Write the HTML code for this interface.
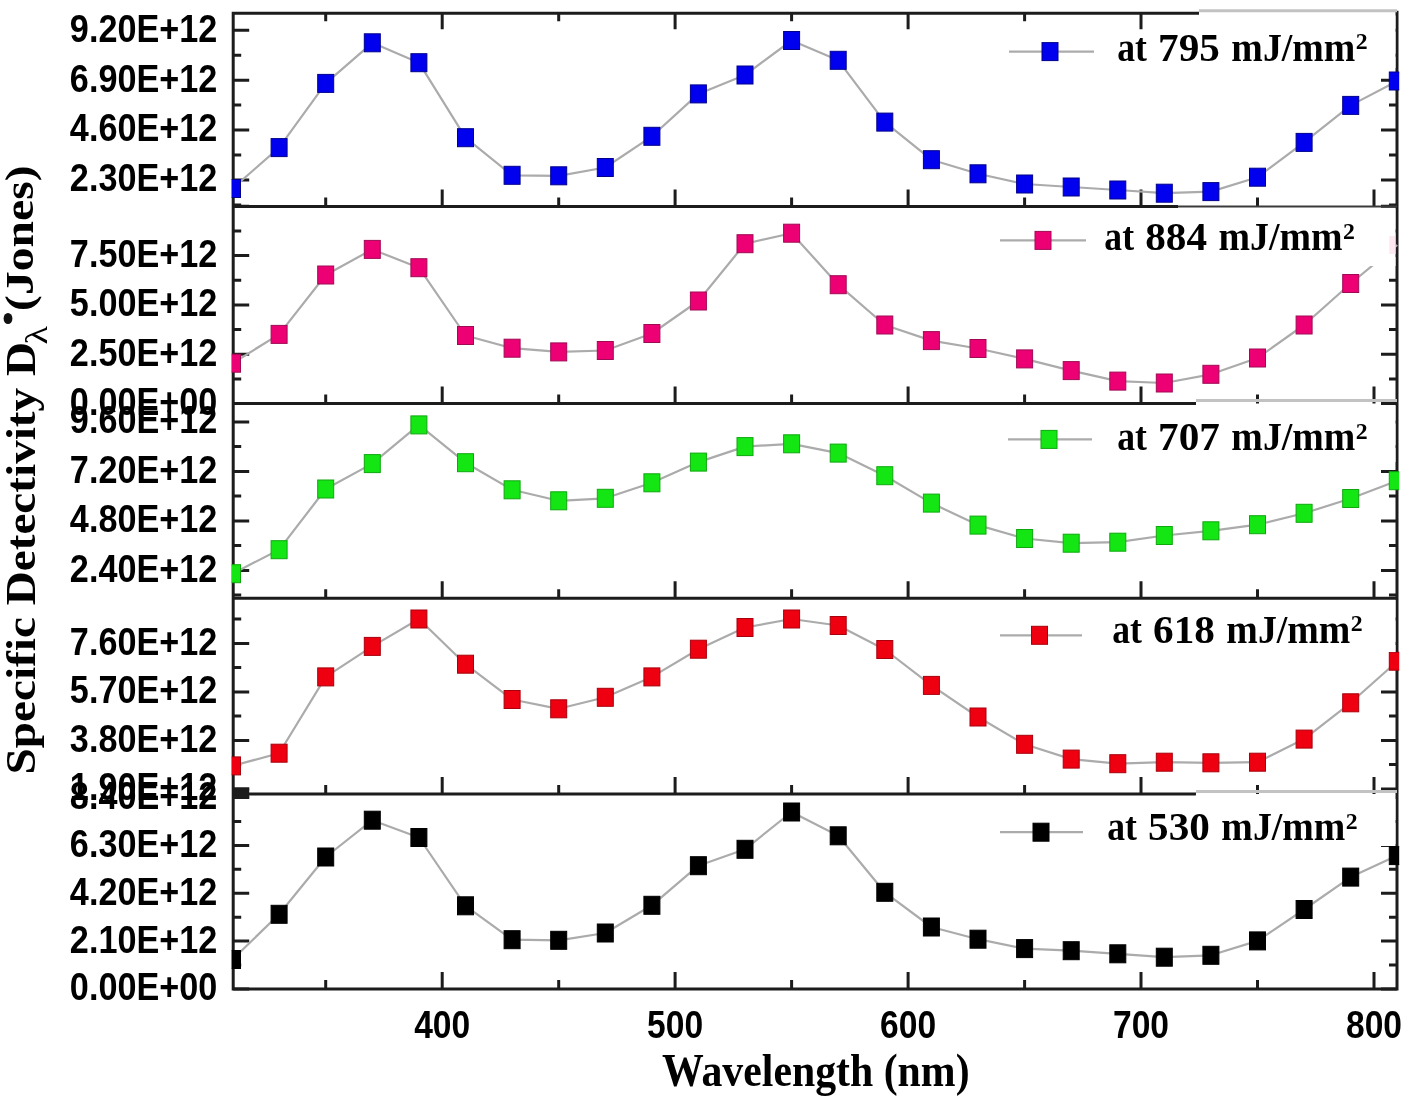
<!DOCTYPE html><html><head><meta charset="utf-8"><title>Specific Detectivity</title><style>html,body{margin:0;padding:0;background:#fff;overflow:hidden;}svg{display:block;}</style></head><body>
<svg width="1416" height="1105" viewBox="0 0 1416 1105" style="will-change:transform">
<rect width="1416" height="1105" fill="#fff"/>
<defs>
<clipPath id="c0"><rect x="231.7" y="13.3" width="1167.5" height="193.3"/></clipPath>
<clipPath id="c1"><rect x="231.7" y="206.6" width="1167.5" height="196.9"/></clipPath>
<clipPath id="c2"><rect x="231.7" y="403.5" width="1167.5" height="194.8"/></clipPath>
<clipPath id="c3"><rect x="231.7" y="598.3" width="1167.5" height="195.7"/></clipPath>
<clipPath id="c4"><rect x="231.7" y="794.0" width="1167.5" height="195.0"/></clipPath>
</defs>
<path d="M233.2 30.3h16 M1397.0 30.3h-16 M233.2 55.2h8 M1397.0 55.2h-8 M233.2 80.2h16 M1397.0 80.2h-16 M233.2 105.1h8 M1397.0 105.1h-8 M233.2 130.1h16 M1397.0 130.1h-16 M233.2 155.1h8 M1397.0 155.1h-8 M233.2 180.0h16 M1397.0 180.0h-16 M233.2 205.0h8 M1397.0 205.0h-8 M325.7 206.6v-9 M442.2 206.6v-17 M558.7 206.6v-9 M675.1 206.6v-17 M791.6 206.6v-9 M908.1 206.6v-17 M1024.6 206.6v-9 M1141.0 206.6v-17 M1257.5 206.6v-9 M1374.0 206.6v-17 M325.7 13.3v8 M442.2 13.3v16 M558.7 13.3v8 M675.1 13.3v16 M791.6 13.3v8 M908.1 13.3v16 M1024.6 13.3v8 M1141.0 13.3v16 M233.2 206.3h16 M1397.0 206.3h-16 M233.2 230.9h8 M1397.0 230.9h-8 M233.2 255.6h16 M1397.0 255.6h-16 M233.2 280.2h8 M1397.0 280.2h-8 M233.2 304.9h16 M1397.0 304.9h-16 M233.2 329.6h8 M1397.0 329.6h-8 M233.2 354.2h16 M1397.0 354.2h-16 M233.2 378.9h8 M1397.0 378.9h-8 M233.2 403.5h16 M1397.0 403.5h-16 M325.7 403.5v-9 M442.2 403.5v-17 M558.7 403.5v-9 M675.1 403.5v-17 M791.6 403.5v-9 M908.1 403.5v-17 M1024.6 403.5v-9 M1141.0 403.5v-17 M1257.5 403.5v-9 M1374.0 403.5v-17 M233.2 421.9h16 M1397.0 421.9h-16 M233.2 446.6h8 M1397.0 446.6h-8 M233.2 471.4h16 M1397.0 471.4h-16 M233.2 496.1h8 M1397.0 496.1h-8 M233.2 520.9h16 M1397.0 520.9h-16 M233.2 545.6h8 M1397.0 545.6h-8 M233.2 570.4h16 M1397.0 570.4h-16 M233.2 595.1h8 M1397.0 595.1h-8 M325.7 598.3v-9 M442.2 598.3v-17 M558.7 598.3v-9 M675.1 598.3v-17 M791.6 598.3v-9 M908.1 598.3v-17 M1024.6 598.3v-9 M1141.0 598.3v-17 M1257.5 598.3v-9 M1374.0 598.3v-17 M233.2 619.1h8 M1397.0 619.1h-8 M233.2 643.4h16 M1397.0 643.4h-16 M233.2 667.6h8 M1397.0 667.6h-8 M233.2 691.9h16 M1397.0 691.9h-16 M233.2 716.1h8 M1397.0 716.1h-8 M233.2 740.4h16 M1397.0 740.4h-16 M233.2 764.6h8 M1397.0 764.6h-8 M233.2 788.9h16 M1397.0 788.9h-16 M325.7 794.0v-9 M442.2 794.0v-17 M558.7 794.0v-9 M675.1 794.0v-17 M791.6 794.0v-9 M908.1 794.0v-17 M1024.6 794.0v-9 M1141.0 794.0v-17 M1257.5 794.0v-9 M1374.0 794.0v-17 M233.2 797.5h16 M1397.0 797.5h-16 M233.2 821.4h8 M1397.0 821.4h-8 M233.2 845.4h16 M1397.0 845.4h-16 M233.2 869.3h8 M1397.0 869.3h-8 M233.2 893.2h16 M1397.0 893.2h-16 M233.2 917.2h8 M1397.0 917.2h-8 M233.2 941.1h16 M1397.0 941.1h-16 M233.2 965.1h8 M1397.0 965.1h-8 M233.2 989.0h16 M1397.0 989.0h-16 M325.7 989.0v-9 M442.2 989.0v-17 M558.7 989.0v-9 M675.1 989.0v-17 M791.6 989.0v-9 M908.1 989.0v-17 M1024.6 989.0v-9 M1141.0 989.0v-17 M1257.5 989.0v-9 M1374.0 989.0v-17" stroke="#1c1c1c" stroke-width="3" fill="none"/>
<path d="M233.2 11.8V990.5 M1397.0 10.8V990.5 M231.7 13.3H1199 M231.7 206.6H1178 M231.7 403.5H1196 M231.7 598.3H1398.5 M231.7 794.0H1196 M231.7 989.0H1398.5" stroke="#1c1c1c" stroke-width="3" fill="none"/>
<rect x="233.2" y="787.5" width="16" height="11" fill="#1c1c1c"/>
<g clip-path="url(#c0)">
<polyline points="232.5,188.5 279.1,147.6 325.7,83.4 372.3,42.8 418.9,62.7 465.5,137.7 512.1,175.3 558.7,175.8 605.3,167.5 651.9,136.3 698.4,93.9 745.0,75.0 791.6,40.5 838.2,60.3 884.8,122.1 931.4,159.7 978.0,173.8 1024.6,184.0 1071.2,187.0 1117.8,190.0 1164.3,193.2 1210.9,191.6 1257.5,177.2 1304.1,142.4 1350.7,105.4 1397.3,81.0" fill="none" stroke="#ababab" stroke-width="2.2" stroke-linejoin="round"/>
<rect x="224.5" y="179.5" width="16" height="18" fill="#0000ee" stroke="#00008c" stroke-width="1"/>
<rect x="271.1" y="138.6" width="16" height="18" fill="#0000ee" stroke="#00008c" stroke-width="1"/>
<rect x="317.7" y="74.4" width="16" height="18" fill="#0000ee" stroke="#00008c" stroke-width="1"/>
<rect x="364.3" y="33.8" width="16" height="18" fill="#0000ee" stroke="#00008c" stroke-width="1"/>
<rect x="410.9" y="53.7" width="16" height="18" fill="#0000ee" stroke="#00008c" stroke-width="1"/>
<rect x="457.5" y="128.7" width="16" height="18" fill="#0000ee" stroke="#00008c" stroke-width="1"/>
<rect x="504.1" y="166.3" width="16" height="18" fill="#0000ee" stroke="#00008c" stroke-width="1"/>
<rect x="550.7" y="166.8" width="16" height="18" fill="#0000ee" stroke="#00008c" stroke-width="1"/>
<rect x="597.3" y="158.5" width="16" height="18" fill="#0000ee" stroke="#00008c" stroke-width="1"/>
<rect x="643.9" y="127.3" width="16" height="18" fill="#0000ee" stroke="#00008c" stroke-width="1"/>
<rect x="690.4" y="84.9" width="16" height="18" fill="#0000ee" stroke="#00008c" stroke-width="1"/>
<rect x="737.0" y="66.0" width="16" height="18" fill="#0000ee" stroke="#00008c" stroke-width="1"/>
<rect x="783.6" y="31.5" width="16" height="18" fill="#0000ee" stroke="#00008c" stroke-width="1"/>
<rect x="830.2" y="51.3" width="16" height="18" fill="#0000ee" stroke="#00008c" stroke-width="1"/>
<rect x="876.8" y="113.1" width="16" height="18" fill="#0000ee" stroke="#00008c" stroke-width="1"/>
<rect x="923.4" y="150.7" width="16" height="18" fill="#0000ee" stroke="#00008c" stroke-width="1"/>
<rect x="970.0" y="164.8" width="16" height="18" fill="#0000ee" stroke="#00008c" stroke-width="1"/>
<rect x="1016.6" y="175.0" width="16" height="18" fill="#0000ee" stroke="#00008c" stroke-width="1"/>
<rect x="1063.2" y="178.0" width="16" height="18" fill="#0000ee" stroke="#00008c" stroke-width="1"/>
<rect x="1109.8" y="181.0" width="16" height="18" fill="#0000ee" stroke="#00008c" stroke-width="1"/>
<rect x="1156.3" y="184.2" width="16" height="18" fill="#0000ee" stroke="#00008c" stroke-width="1"/>
<rect x="1202.9" y="182.6" width="16" height="18" fill="#0000ee" stroke="#00008c" stroke-width="1"/>
<rect x="1249.5" y="168.2" width="16" height="18" fill="#0000ee" stroke="#00008c" stroke-width="1"/>
<rect x="1296.1" y="133.4" width="16" height="18" fill="#0000ee" stroke="#00008c" stroke-width="1"/>
<rect x="1342.7" y="96.4" width="16" height="18" fill="#0000ee" stroke="#00008c" stroke-width="1"/>
<rect x="1389.3" y="72.0" width="16" height="18" fill="#0000ee" stroke="#00008c" stroke-width="1"/>
</g>
<g clip-path="url(#c1)">
<polyline points="232.5,363.2 279.1,334.4 325.7,275.0 372.3,249.4 418.9,267.7 465.5,335.5 512.1,348.2 558.7,351.9 605.3,350.5 651.9,333.5 698.4,301.0 745.0,243.7 791.6,233.2 838.2,284.7 884.8,325.0 931.4,340.6 978.0,348.5 1024.6,358.9 1071.2,370.6 1117.8,381.1 1164.3,383.0 1210.9,374.3 1257.5,358.0 1304.1,325.0 1350.7,283.5 1397.3,245.0" fill="none" stroke="#ababab" stroke-width="2.2" stroke-linejoin="round"/>
<rect x="224.5" y="354.2" width="16" height="18" fill="#ec0074" stroke="#a00a55" stroke-width="1"/>
<rect x="271.1" y="325.4" width="16" height="18" fill="#ec0074" stroke="#a00a55" stroke-width="1"/>
<rect x="317.7" y="266.0" width="16" height="18" fill="#ec0074" stroke="#a00a55" stroke-width="1"/>
<rect x="364.3" y="240.4" width="16" height="18" fill="#ec0074" stroke="#a00a55" stroke-width="1"/>
<rect x="410.9" y="258.7" width="16" height="18" fill="#ec0074" stroke="#a00a55" stroke-width="1"/>
<rect x="457.5" y="326.5" width="16" height="18" fill="#ec0074" stroke="#a00a55" stroke-width="1"/>
<rect x="504.1" y="339.2" width="16" height="18" fill="#ec0074" stroke="#a00a55" stroke-width="1"/>
<rect x="550.7" y="342.9" width="16" height="18" fill="#ec0074" stroke="#a00a55" stroke-width="1"/>
<rect x="597.3" y="341.5" width="16" height="18" fill="#ec0074" stroke="#a00a55" stroke-width="1"/>
<rect x="643.9" y="324.5" width="16" height="18" fill="#ec0074" stroke="#a00a55" stroke-width="1"/>
<rect x="690.4" y="292.0" width="16" height="18" fill="#ec0074" stroke="#a00a55" stroke-width="1"/>
<rect x="737.0" y="234.7" width="16" height="18" fill="#ec0074" stroke="#a00a55" stroke-width="1"/>
<rect x="783.6" y="224.2" width="16" height="18" fill="#ec0074" stroke="#a00a55" stroke-width="1"/>
<rect x="830.2" y="275.7" width="16" height="18" fill="#ec0074" stroke="#a00a55" stroke-width="1"/>
<rect x="876.8" y="316.0" width="16" height="18" fill="#ec0074" stroke="#a00a55" stroke-width="1"/>
<rect x="923.4" y="331.6" width="16" height="18" fill="#ec0074" stroke="#a00a55" stroke-width="1"/>
<rect x="970.0" y="339.5" width="16" height="18" fill="#ec0074" stroke="#a00a55" stroke-width="1"/>
<rect x="1016.6" y="349.9" width="16" height="18" fill="#ec0074" stroke="#a00a55" stroke-width="1"/>
<rect x="1063.2" y="361.6" width="16" height="18" fill="#ec0074" stroke="#a00a55" stroke-width="1"/>
<rect x="1109.8" y="372.1" width="16" height="18" fill="#ec0074" stroke="#a00a55" stroke-width="1"/>
<rect x="1156.3" y="374.0" width="16" height="18" fill="#ec0074" stroke="#a00a55" stroke-width="1"/>
<rect x="1202.9" y="365.3" width="16" height="18" fill="#ec0074" stroke="#a00a55" stroke-width="1"/>
<rect x="1249.5" y="349.0" width="16" height="18" fill="#ec0074" stroke="#a00a55" stroke-width="1"/>
<rect x="1296.1" y="316.0" width="16" height="18" fill="#ec0074" stroke="#a00a55" stroke-width="1"/>
<rect x="1342.7" y="274.5" width="16" height="18" fill="#ec0074" stroke="#a00a55" stroke-width="1"/>
</g>
<g clip-path="url(#c2)">
<polyline points="232.5,573.7 279.1,549.7 325.7,489.0 372.3,463.6 418.9,424.9 465.5,462.7 512.1,489.8 558.7,500.8 605.3,498.3 651.9,482.8 698.4,462.1 745.0,446.6 791.6,443.8 838.2,453.1 884.8,475.7 931.4,503.1 978.0,525.1 1024.6,538.5 1071.2,543.2 1117.8,542.2 1164.3,535.5 1210.9,530.8 1257.5,524.7 1304.1,513.3 1350.7,498.5 1397.3,480.7" fill="none" stroke="#ababab" stroke-width="2.2" stroke-linejoin="round"/>
<rect x="224.5" y="564.7" width="16" height="18" fill="#14e614" stroke="#0ea80e" stroke-width="1"/>
<rect x="271.1" y="540.7" width="16" height="18" fill="#14e614" stroke="#0ea80e" stroke-width="1"/>
<rect x="317.7" y="480.0" width="16" height="18" fill="#14e614" stroke="#0ea80e" stroke-width="1"/>
<rect x="364.3" y="454.6" width="16" height="18" fill="#14e614" stroke="#0ea80e" stroke-width="1"/>
<rect x="410.9" y="415.9" width="16" height="18" fill="#14e614" stroke="#0ea80e" stroke-width="1"/>
<rect x="457.5" y="453.7" width="16" height="18" fill="#14e614" stroke="#0ea80e" stroke-width="1"/>
<rect x="504.1" y="480.8" width="16" height="18" fill="#14e614" stroke="#0ea80e" stroke-width="1"/>
<rect x="550.7" y="491.8" width="16" height="18" fill="#14e614" stroke="#0ea80e" stroke-width="1"/>
<rect x="597.3" y="489.3" width="16" height="18" fill="#14e614" stroke="#0ea80e" stroke-width="1"/>
<rect x="643.9" y="473.8" width="16" height="18" fill="#14e614" stroke="#0ea80e" stroke-width="1"/>
<rect x="690.4" y="453.1" width="16" height="18" fill="#14e614" stroke="#0ea80e" stroke-width="1"/>
<rect x="737.0" y="437.6" width="16" height="18" fill="#14e614" stroke="#0ea80e" stroke-width="1"/>
<rect x="783.6" y="434.8" width="16" height="18" fill="#14e614" stroke="#0ea80e" stroke-width="1"/>
<rect x="830.2" y="444.1" width="16" height="18" fill="#14e614" stroke="#0ea80e" stroke-width="1"/>
<rect x="876.8" y="466.7" width="16" height="18" fill="#14e614" stroke="#0ea80e" stroke-width="1"/>
<rect x="923.4" y="494.1" width="16" height="18" fill="#14e614" stroke="#0ea80e" stroke-width="1"/>
<rect x="970.0" y="516.1" width="16" height="18" fill="#14e614" stroke="#0ea80e" stroke-width="1"/>
<rect x="1016.6" y="529.5" width="16" height="18" fill="#14e614" stroke="#0ea80e" stroke-width="1"/>
<rect x="1063.2" y="534.2" width="16" height="18" fill="#14e614" stroke="#0ea80e" stroke-width="1"/>
<rect x="1109.8" y="533.2" width="16" height="18" fill="#14e614" stroke="#0ea80e" stroke-width="1"/>
<rect x="1156.3" y="526.5" width="16" height="18" fill="#14e614" stroke="#0ea80e" stroke-width="1"/>
<rect x="1202.9" y="521.8" width="16" height="18" fill="#14e614" stroke="#0ea80e" stroke-width="1"/>
<rect x="1249.5" y="515.7" width="16" height="18" fill="#14e614" stroke="#0ea80e" stroke-width="1"/>
<rect x="1296.1" y="504.3" width="16" height="18" fill="#14e614" stroke="#0ea80e" stroke-width="1"/>
<rect x="1342.7" y="489.5" width="16" height="18" fill="#14e614" stroke="#0ea80e" stroke-width="1"/>
<rect x="1389.3" y="471.7" width="16" height="18" fill="#14e614" stroke="#0ea80e" stroke-width="1"/>
</g>
<g clip-path="url(#c3)">
<polyline points="232.5,765.9 279.1,753.2 325.7,676.9 372.3,646.4 418.9,619.0 465.5,664.2 512.1,699.5 558.7,708.8 605.3,697.3 651.9,676.9 698.4,649.2 745.0,627.5 791.6,619.0 838.2,625.5 884.8,649.5 931.4,685.4 978.0,717.0 1024.6,744.3 1071.2,759.1 1117.8,763.7 1164.3,762.2 1210.9,762.8 1257.5,762.2 1304.1,739.1 1350.7,702.8 1397.3,661.2" fill="none" stroke="#ababab" stroke-width="2.2" stroke-linejoin="round"/>
<rect x="224.5" y="756.9" width="16" height="18" fill="#ee0010" stroke="#a8000c" stroke-width="1"/>
<rect x="271.1" y="744.2" width="16" height="18" fill="#ee0010" stroke="#a8000c" stroke-width="1"/>
<rect x="317.7" y="667.9" width="16" height="18" fill="#ee0010" stroke="#a8000c" stroke-width="1"/>
<rect x="364.3" y="637.4" width="16" height="18" fill="#ee0010" stroke="#a8000c" stroke-width="1"/>
<rect x="410.9" y="610.0" width="16" height="18" fill="#ee0010" stroke="#a8000c" stroke-width="1"/>
<rect x="457.5" y="655.2" width="16" height="18" fill="#ee0010" stroke="#a8000c" stroke-width="1"/>
<rect x="504.1" y="690.5" width="16" height="18" fill="#ee0010" stroke="#a8000c" stroke-width="1"/>
<rect x="550.7" y="699.8" width="16" height="18" fill="#ee0010" stroke="#a8000c" stroke-width="1"/>
<rect x="597.3" y="688.3" width="16" height="18" fill="#ee0010" stroke="#a8000c" stroke-width="1"/>
<rect x="643.9" y="667.9" width="16" height="18" fill="#ee0010" stroke="#a8000c" stroke-width="1"/>
<rect x="690.4" y="640.2" width="16" height="18" fill="#ee0010" stroke="#a8000c" stroke-width="1"/>
<rect x="737.0" y="618.5" width="16" height="18" fill="#ee0010" stroke="#a8000c" stroke-width="1"/>
<rect x="783.6" y="610.0" width="16" height="18" fill="#ee0010" stroke="#a8000c" stroke-width="1"/>
<rect x="830.2" y="616.5" width="16" height="18" fill="#ee0010" stroke="#a8000c" stroke-width="1"/>
<rect x="876.8" y="640.5" width="16" height="18" fill="#ee0010" stroke="#a8000c" stroke-width="1"/>
<rect x="923.4" y="676.4" width="16" height="18" fill="#ee0010" stroke="#a8000c" stroke-width="1"/>
<rect x="970.0" y="708.0" width="16" height="18" fill="#ee0010" stroke="#a8000c" stroke-width="1"/>
<rect x="1016.6" y="735.3" width="16" height="18" fill="#ee0010" stroke="#a8000c" stroke-width="1"/>
<rect x="1063.2" y="750.1" width="16" height="18" fill="#ee0010" stroke="#a8000c" stroke-width="1"/>
<rect x="1109.8" y="754.7" width="16" height="18" fill="#ee0010" stroke="#a8000c" stroke-width="1"/>
<rect x="1156.3" y="753.2" width="16" height="18" fill="#ee0010" stroke="#a8000c" stroke-width="1"/>
<rect x="1202.9" y="753.8" width="16" height="18" fill="#ee0010" stroke="#a8000c" stroke-width="1"/>
<rect x="1249.5" y="753.2" width="16" height="18" fill="#ee0010" stroke="#a8000c" stroke-width="1"/>
<rect x="1296.1" y="730.1" width="16" height="18" fill="#ee0010" stroke="#a8000c" stroke-width="1"/>
<rect x="1342.7" y="693.8" width="16" height="18" fill="#ee0010" stroke="#a8000c" stroke-width="1"/>
<rect x="1389.3" y="652.2" width="16" height="18" fill="#ee0010" stroke="#a8000c" stroke-width="1"/>
</g>
<g clip-path="url(#c4)">
<polyline points="232.5,959.5 279.1,914.3 325.7,857.0 372.3,820.2 418.9,837.5 465.5,905.8 512.1,939.7 558.7,940.3 605.3,933.0 651.9,905.3 698.4,865.7 745.0,849.3 791.6,812.0 838.2,835.8 884.8,892.3 931.4,927.0 978.0,939.2 1024.6,948.6 1071.2,950.7 1117.8,953.8 1164.3,957.2 1210.9,955.3 1257.5,940.9 1304.1,909.5 1350.7,877.1 1397.3,855.6" fill="none" stroke="#ababab" stroke-width="2.2" stroke-linejoin="round"/>
<rect x="224.5" y="950.5" width="16" height="18" fill="#000000" stroke="#000000" stroke-width="1"/>
<rect x="271.1" y="905.3" width="16" height="18" fill="#000000" stroke="#000000" stroke-width="1"/>
<rect x="317.7" y="848.0" width="16" height="18" fill="#000000" stroke="#000000" stroke-width="1"/>
<rect x="364.3" y="811.2" width="16" height="18" fill="#000000" stroke="#000000" stroke-width="1"/>
<rect x="410.9" y="828.5" width="16" height="18" fill="#000000" stroke="#000000" stroke-width="1"/>
<rect x="457.5" y="896.8" width="16" height="18" fill="#000000" stroke="#000000" stroke-width="1"/>
<rect x="504.1" y="930.7" width="16" height="18" fill="#000000" stroke="#000000" stroke-width="1"/>
<rect x="550.7" y="931.3" width="16" height="18" fill="#000000" stroke="#000000" stroke-width="1"/>
<rect x="597.3" y="924.0" width="16" height="18" fill="#000000" stroke="#000000" stroke-width="1"/>
<rect x="643.9" y="896.3" width="16" height="18" fill="#000000" stroke="#000000" stroke-width="1"/>
<rect x="690.4" y="856.7" width="16" height="18" fill="#000000" stroke="#000000" stroke-width="1"/>
<rect x="737.0" y="840.3" width="16" height="18" fill="#000000" stroke="#000000" stroke-width="1"/>
<rect x="783.6" y="803.0" width="16" height="18" fill="#000000" stroke="#000000" stroke-width="1"/>
<rect x="830.2" y="826.8" width="16" height="18" fill="#000000" stroke="#000000" stroke-width="1"/>
<rect x="876.8" y="883.3" width="16" height="18" fill="#000000" stroke="#000000" stroke-width="1"/>
<rect x="923.4" y="918.0" width="16" height="18" fill="#000000" stroke="#000000" stroke-width="1"/>
<rect x="970.0" y="930.2" width="16" height="18" fill="#000000" stroke="#000000" stroke-width="1"/>
<rect x="1016.6" y="939.6" width="16" height="18" fill="#000000" stroke="#000000" stroke-width="1"/>
<rect x="1063.2" y="941.7" width="16" height="18" fill="#000000" stroke="#000000" stroke-width="1"/>
<rect x="1109.8" y="944.8" width="16" height="18" fill="#000000" stroke="#000000" stroke-width="1"/>
<rect x="1156.3" y="948.2" width="16" height="18" fill="#000000" stroke="#000000" stroke-width="1"/>
<rect x="1202.9" y="946.3" width="16" height="18" fill="#000000" stroke="#000000" stroke-width="1"/>
<rect x="1249.5" y="931.9" width="16" height="18" fill="#000000" stroke="#000000" stroke-width="1"/>
<rect x="1296.1" y="900.5" width="16" height="18" fill="#000000" stroke="#000000" stroke-width="1"/>
<rect x="1342.7" y="868.1" width="16" height="18" fill="#000000" stroke="#000000" stroke-width="1"/>
<rect x="1389.3" y="846.6" width="16" height="18" fill="#000000" stroke="#000000" stroke-width="1"/>
</g>
<rect x="1195" y="15.5" width="200.5" height="52.5" fill="#fff"/>
<path d="M1009 51.6H1094" stroke="#ababab" stroke-width="2.2"/>
<rect x="1042" y="42.6" width="16" height="18" fill="#0000ee" stroke="#00008c" stroke-width="1"/>
<text transform="translate(1117.13 60.60) scale(0.3563 0.392)" font-family="Liberation Serif" font-weight="bold" font-size="100">at</text>
<text transform="translate(1158.05 60.60) scale(0.4120 0.392)" font-family="Liberation Serif" font-weight="bold" font-size="100">795</text>
<text transform="translate(1231.36 60.60) scale(0.3786 0.392)" font-family="Liberation Serif" font-weight="bold" font-size="100">mJ/mm</text>
<text transform="translate(1355.75 48.90) scale(0.2381 0.228)" font-family="Liberation Serif" font-weight="bold" font-size="100">2</text>
<rect x="1195" y="208.5" width="200.5" height="57.5" fill="#fff"/>
<path d="M1000 240.4H1086" stroke="#ababab" stroke-width="2.2"/>
<rect x="1035" y="231.4" width="16" height="18" fill="#ec0074" stroke="#a00a55" stroke-width="1"/>
<text transform="translate(1104.33 250.20) scale(0.3563 0.392)" font-family="Liberation Serif" font-weight="bold" font-size="100">at</text>
<text transform="translate(1145.25 250.20) scale(0.4120 0.392)" font-family="Liberation Serif" font-weight="bold" font-size="100">884</text>
<text transform="translate(1218.56 250.20) scale(0.3786 0.392)" font-family="Liberation Serif" font-weight="bold" font-size="100">mJ/mm</text>
<text transform="translate(1342.95 238.50) scale(0.2381 0.228)" font-family="Liberation Serif" font-weight="bold" font-size="100">2</text>
<rect x="1195" y="405.5" width="200.5" height="56.5" fill="#fff"/>
<path d="M1008 439.4H1092" stroke="#ababab" stroke-width="2.2"/>
<rect x="1041" y="430.4" width="16" height="18" fill="#14e614" stroke="#0ea80e" stroke-width="1"/>
<text transform="translate(1117.13 450.20) scale(0.3563 0.392)" font-family="Liberation Serif" font-weight="bold" font-size="100">at</text>
<text transform="translate(1158.05 450.20) scale(0.4120 0.392)" font-family="Liberation Serif" font-weight="bold" font-size="100">707</text>
<text transform="translate(1231.36 450.20) scale(0.3786 0.392)" font-family="Liberation Serif" font-weight="bold" font-size="100">mJ/mm</text>
<text transform="translate(1355.75 438.50) scale(0.2381 0.228)" font-family="Liberation Serif" font-weight="bold" font-size="100">2</text>
<rect x="1195" y="600.0" width="200.5" height="52.0" fill="#fff"/>
<path d="M1000 635.3H1082" stroke="#ababab" stroke-width="2.2"/>
<rect x="1031.5" y="626.3" width="16" height="18" fill="#ee0010" stroke="#a8000c" stroke-width="1"/>
<text transform="translate(1112.13 642.60) scale(0.3563 0.392)" font-family="Liberation Serif" font-weight="bold" font-size="100">at</text>
<text transform="translate(1153.05 642.60) scale(0.4120 0.392)" font-family="Liberation Serif" font-weight="bold" font-size="100">618</text>
<text transform="translate(1226.36 642.60) scale(0.3786 0.392)" font-family="Liberation Serif" font-weight="bold" font-size="100">mJ/mm</text>
<text transform="translate(1350.75 630.90) scale(0.2381 0.228)" font-family="Liberation Serif" font-weight="bold" font-size="100">2</text>
<rect x="1195" y="795.8" width="200.5" height="50.200000000000045" fill="#fff"/>
<path d="M1000 832.2H1083" stroke="#ababab" stroke-width="2.2"/>
<rect x="1033" y="823.2" width="16" height="18" fill="#000000" stroke="#000000" stroke-width="1"/>
<text transform="translate(1107.13 840.20) scale(0.3563 0.392)" font-family="Liberation Serif" font-weight="bold" font-size="100">at</text>
<text transform="translate(1148.05 840.20) scale(0.4120 0.392)" font-family="Liberation Serif" font-weight="bold" font-size="100">530</text>
<text transform="translate(1221.36 840.20) scale(0.3786 0.392)" font-family="Liberation Serif" font-weight="bold" font-size="100">mJ/mm</text>
<text transform="translate(1345.75 828.50) scale(0.2381 0.228)" font-family="Liberation Serif" font-weight="bold" font-size="100">2</text>
<rect x="1389.3" y="236" width="6.2" height="18" fill="#f7b0d2" opacity="0.3"/>
<path d="M1199 10.8H1397.0" stroke="#c2c2c2" stroke-width="3"/>
<path d="M1178 206.6H1397.0" stroke="#3a3a3a" stroke-width="2"/>
<path d="M1196 400.5H1397.0" stroke="#c2c2c2" stroke-width="3"/>
<path d="M1196 791.6H1397.0" stroke="#c2c2c2" stroke-width="3"/>
<text transform="translate(217.2 41.6) scale(0.342 0.394)" text-anchor="end" font-family="Liberation Sans" font-weight="bold" font-size="100">9.20E+12</text>
<text transform="translate(217.2 91.5) scale(0.342 0.394)" text-anchor="end" font-family="Liberation Sans" font-weight="bold" font-size="100">6.90E+12</text>
<text transform="translate(217.2 141.4) scale(0.342 0.394)" text-anchor="end" font-family="Liberation Sans" font-weight="bold" font-size="100">4.60E+12</text>
<text transform="translate(217.2 191.3) scale(0.342 0.394)" text-anchor="end" font-family="Liberation Sans" font-weight="bold" font-size="100">2.30E+12</text>
<text transform="translate(217.2 266.9) scale(0.342 0.394)" text-anchor="end" font-family="Liberation Sans" font-weight="bold" font-size="100">7.50E+12</text>
<text transform="translate(217.2 316.2) scale(0.342 0.394)" text-anchor="end" font-family="Liberation Sans" font-weight="bold" font-size="100">5.00E+12</text>
<text transform="translate(217.2 365.5) scale(0.342 0.394)" text-anchor="end" font-family="Liberation Sans" font-weight="bold" font-size="100">2.50E+12</text>
<text transform="translate(217.2 414.8) scale(0.342 0.394)" text-anchor="end" font-family="Liberation Sans" font-weight="bold" font-size="100">0.00E+00</text>
<text transform="translate(217.2 433.2) scale(0.342 0.394)" text-anchor="end" font-family="Liberation Sans" font-weight="bold" font-size="100">9.60E+12</text>
<text transform="translate(217.2 482.7) scale(0.342 0.394)" text-anchor="end" font-family="Liberation Sans" font-weight="bold" font-size="100">7.20E+12</text>
<text transform="translate(217.2 532.2) scale(0.342 0.394)" text-anchor="end" font-family="Liberation Sans" font-weight="bold" font-size="100">4.80E+12</text>
<text transform="translate(217.2 581.7) scale(0.342 0.394)" text-anchor="end" font-family="Liberation Sans" font-weight="bold" font-size="100">2.40E+12</text>
<text transform="translate(217.2 654.7) scale(0.342 0.394)" text-anchor="end" font-family="Liberation Sans" font-weight="bold" font-size="100">7.60E+12</text>
<text transform="translate(217.2 703.2) scale(0.342 0.394)" text-anchor="end" font-family="Liberation Sans" font-weight="bold" font-size="100">5.70E+12</text>
<text transform="translate(217.2 751.7) scale(0.342 0.394)" text-anchor="end" font-family="Liberation Sans" font-weight="bold" font-size="100">3.80E+12</text>
<text transform="translate(217.2 800.2) scale(0.342 0.394)" text-anchor="end" font-family="Liberation Sans" font-weight="bold" font-size="100">1.90E+12</text>
<text transform="translate(217.2 808.8) scale(0.342 0.394)" text-anchor="end" font-family="Liberation Sans" font-weight="bold" font-size="100">8.40E+12</text>
<text transform="translate(217.2 856.8) scale(0.342 0.394)" text-anchor="end" font-family="Liberation Sans" font-weight="bold" font-size="100">6.30E+12</text>
<text transform="translate(217.2 904.8) scale(0.342 0.394)" text-anchor="end" font-family="Liberation Sans" font-weight="bold" font-size="100">4.20E+12</text>
<text transform="translate(217.2 952.8) scale(0.342 0.394)" text-anchor="end" font-family="Liberation Sans" font-weight="bold" font-size="100">2.10E+12</text>
<text transform="translate(217.2 1000.3) scale(0.342 0.394)" text-anchor="end" font-family="Liberation Sans" font-weight="bold" font-size="100">0.00E+00</text>
<text transform="translate(442.2 1038) scale(0.336 0.38)" text-anchor="middle" font-family="Liberation Sans" font-weight="bold" font-size="100">400</text>
<text transform="translate(675.1 1038) scale(0.336 0.38)" text-anchor="middle" font-family="Liberation Sans" font-weight="bold" font-size="100">500</text>
<text transform="translate(908.1 1038) scale(0.336 0.38)" text-anchor="middle" font-family="Liberation Sans" font-weight="bold" font-size="100">600</text>
<text transform="translate(1141.0 1038) scale(0.336 0.38)" text-anchor="middle" font-family="Liberation Sans" font-weight="bold" font-size="100">700</text>
<text transform="translate(1374.0 1038) scale(0.336 0.38)" text-anchor="middle" font-family="Liberation Sans" font-weight="bold" font-size="100">800</text>
<text transform="translate(662 1085.6) scale(0.418 0.463)" font-family="Liberation Serif" font-weight="bold" font-size="100">Wavelength (nm)</text>
<text transform="translate(34.5 774.4) rotate(-90) scale(0.472 0.425)" font-family="Liberation Serif" font-weight="bold" font-size="100">Specific Detectivity D</text>
<text transform="translate(47.3 344.55) rotate(-90) scale(0.382 0.314)" font-family="Liberation Serif" font-size="100">λ</text>
<ellipse cx="8" cy="318.5" rx="4.4" ry="5.6" fill="#111"/>
<text transform="translate(32.7 310.9) rotate(-90) scale(0.476 0.405)" font-family="Liberation Serif" font-weight="bold" font-size="100">(Jones)</text>
</svg></body></html>
